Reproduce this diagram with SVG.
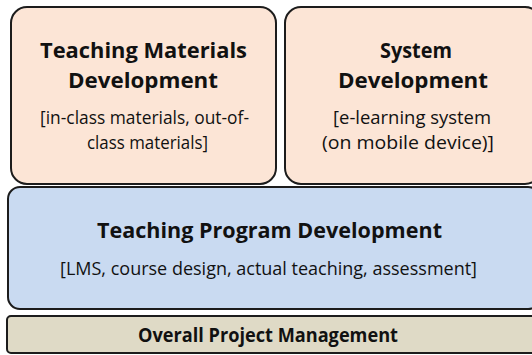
<svg xmlns="http://www.w3.org/2000/svg" width="532" height="355" viewBox="0 0 532 355">
<style>
.box{stroke:#1c1c1c;stroke-width:2}
.peach{fill:#FCE5D6}
.blue{fill:#C9DAF1}
.tan{fill:#DFDAC6}
text{font-family:"Open Sans","Noto Sans","Liberation Sans",sans-serif;fill:#111;text-anchor:middle}
.t{font-weight:bold;font-size:21.5px}
.s{font-size:19px}
</style>
<rect width="532" height="355" fill="#ffffff"/>
<g id="teaching-materials">
<rect class="box peach" x="11" y="7" width="265" height="177" rx="16"/>
<text class="t" x="143.5" y="58" textLength="207" lengthAdjust="spacingAndGlyphs">Teaching Materials</text>
<text class="t" x="143" y="88" textLength="150" lengthAdjust="spacingAndGlyphs">Development</text>
<text class="s" x="144.5" y="124" textLength="209" lengthAdjust="spacingAndGlyphs">[in-class materials, out-of-</text>
<text class="s" x="147.5" y="149" textLength="121" lengthAdjust="spacingAndGlyphs">class materials]</text>
</g>
<g id="system-development">
<rect class="box peach" x="285" y="7" width="256" height="177" rx="16"/>
<text class="t" x="416" y="58" textLength="72" lengthAdjust="spacingAndGlyphs">System</text>
<text class="t" x="413" y="88" textLength="150" lengthAdjust="spacingAndGlyphs">Development</text>
<text class="s" x="412" y="124" textLength="158" lengthAdjust="spacingAndGlyphs">[e-learning system</text>
<text class="s" x="408" y="149" textLength="172" lengthAdjust="spacingAndGlyphs">(on mobile device)]</text>
</g>
<g id="teaching-program">
<rect class="box blue" x="8" y="187" width="532" height="122" rx="12"/>
<text class="t" x="269.5" y="238" textLength="345" lengthAdjust="spacingAndGlyphs">Teaching Program Development</text>
<text class="s" x="268.5" y="275" textLength="417" lengthAdjust="spacingAndGlyphs">[LMS, course design, actual teaching, assessment]</text>
</g>
<g id="project-management">
<rect class="box tan" x="7" y="316" width="532" height="37" rx="4"/>
<text class="t" style="font-size:19px" x="268" y="342" textLength="260" lengthAdjust="spacingAndGlyphs">Overall Project Management</text>
</g>
<g id="connectors"></g>
</svg>
